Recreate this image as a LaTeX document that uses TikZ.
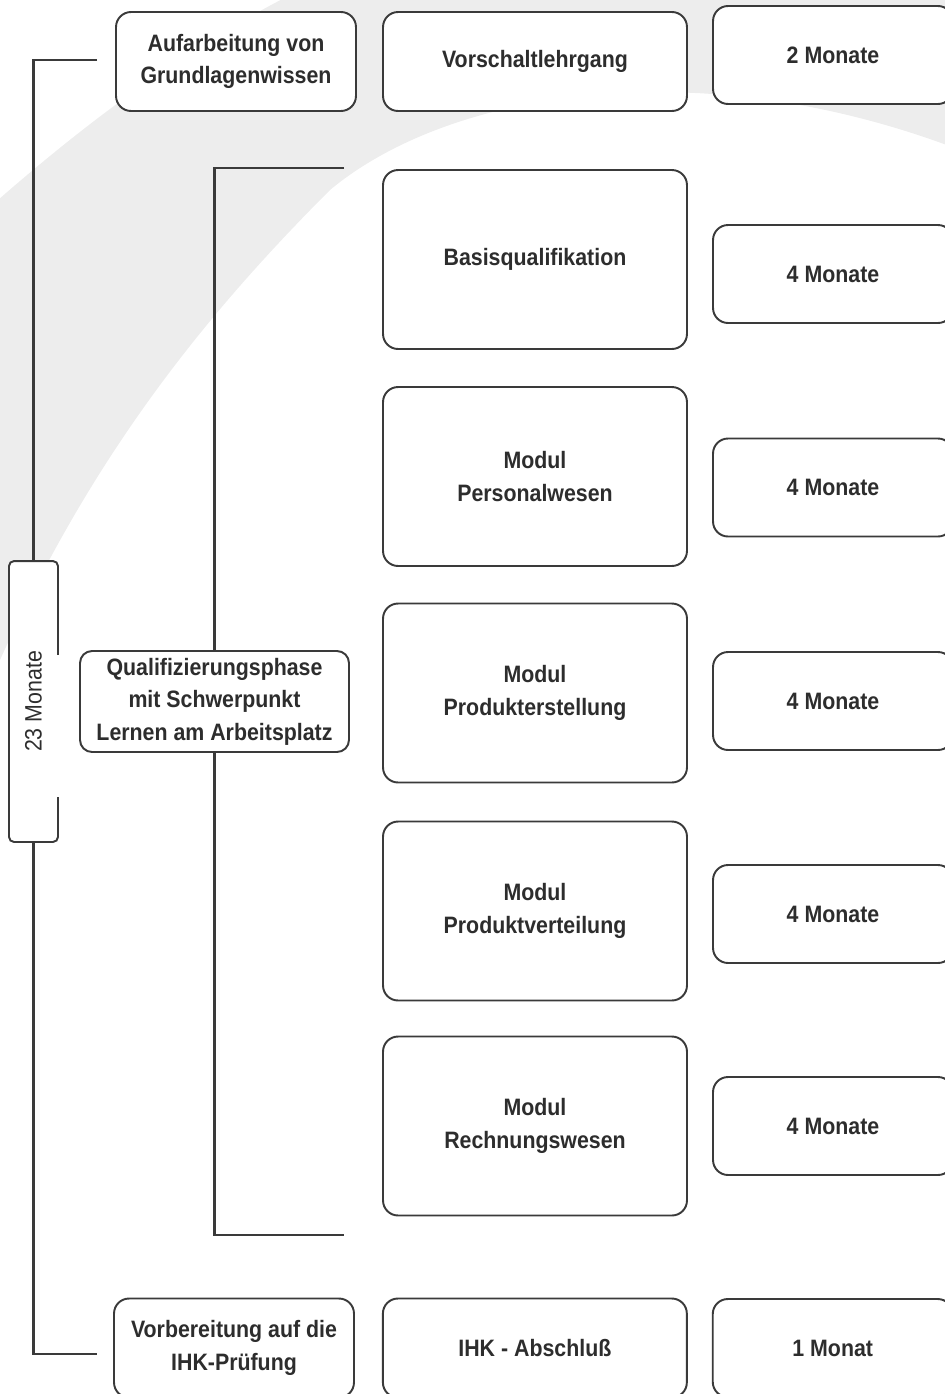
\documentclass[tikz,border=0pt]{standalone}
\usepackage{fontspec}
\setmainfont{Liberation Sans}[FakeStretch=0.9]
\usetikzlibrary{positioning,backgrounds}

\definecolor{linegray}{RGB}{58,58,58}
\definecolor{textgray}{RGB}{45,45,45}
\definecolor{swooshgray}{RGB}{237,237,237}

\begin{document}
\begin{tikzpicture}[
        x=0.02cm, y=-0.02cm,
        node distance=0.48cm,
        box/.style={
            rectangle,
            draw=linegray,
            line width=1.1pt,
            fill=white,
            rounded corners=0.3cm,
            align=center,
            inner sep=0pt,
            text=textgray,
            font=\fontsize{13.5}{18.5}\selectfont\bfseries
        },
        phase/.style={box, minimum width=4.8cm, minimum height=1.98cm},
        course/.style={box, minimum width=6.08cm, minimum height=1.98cm},
        modul/.style={box, minimum width=6.08cm, minimum height=3.58cm},
        dauer/.style={box, minimum width=4.8cm, minimum height=1.96cm},
        klammer/.style={draw=linegray, line width=1.2pt}
    ]

    \useasboundingbox (0,0) rectangle (944,1394);

    % Vorschaltlehrgang
    \node[phase] (aufarb) at (236,61.5) {Aufarbeitung von\\Grundlagenwissen};
    \node[course] (vorschalt) at (535,61.5) {Vorschaltlehrgang};
    \node[dauer] (dauer0) at (833,55) {2 Monate};

    % Module
    \node[modul] (basis) at (535,259.5) {Basisqualifikation};
    \node[dauer] (dauer1) at (833,274) {4 Monate};
    \node[modul] (personal) at (535,476.5) {Modul\\Personalwesen};
    \node[dauer] (dauer2) at (833,487.5) {4 Monate};
    \node[modul] (erstellung) at (535,693) {Modul\\Produkterstellung};
    \node[dauer] (dauer3) at (833,701) {4 Monate};
    \node[modul] (verteilung) at (535,911) {Modul\\Produktverteilung};
    \node[dauer] (dauer4) at (833,914) {4 Monate};
    \node[modul] (rechnung) at (535,1126) {Modul\\Rechnungswesen};
    \node[dauer] (dauer5) at (833,1126) {4 Monate};

    % Phase und Gesamtdauer
    \node[box, minimum width=5.38cm, minimum height=2.02cm, rounded corners=0.24cm] (quali) at (214.5,701.5) {Qualifizierungsphase\\mit Schwerpunkt\\Lernen am Arbeitsplatz};
    \node[box, font=\fontsize{13.5}{18.5}\selectfont, rotate=90, minimum width=5.62cm, minimum height=0.98cm, rounded corners=0.1cm] (gesamt) at (33.5,701.5) {23 Monate};

    % Abschluss
    \node[phase] (vorbereit) at (234,1348) {Vorbereitung auf die\\IHK-Prüfung};
    \node[course, right=0.54cm of vorbereit] (ihk) {IHK - Abschluß};
    \node[dauer, right=of ihk] (dauer6) {1 Monat};

    % Klammern
    \coordinate (otop) at (97,60);
    \coordinate (obot) at (97,1354);
    \coordinate (itop) at (344,168);
    \coordinate (ibot) at (344,1235);

    \draw[white, line width=2pt] (gesamt.south |- 0,655) -- (gesamt.south |- 0,797);

    \begin{pgfonlayer}{background}
        \fill[swooshgray] (-10,207) .. controls (100,110) and (200,40) .. (300,-10) -- (960,-10) -- (960,150)
            .. controls (700,50) and (450,90) .. (330,190)
            .. controls (200,320) and (90,460) .. (0,660) -- (-10,660) -- cycle;
        \draw[klammer] (otop) -- (otop -| gesamt) -- (obot -| gesamt) -- (obot);
        \draw[klammer] (itop) -- (itop -| quali) -- (ibot -| quali) -- (ibot);
    \end{pgfonlayer}

\end{tikzpicture}
\end{document}
